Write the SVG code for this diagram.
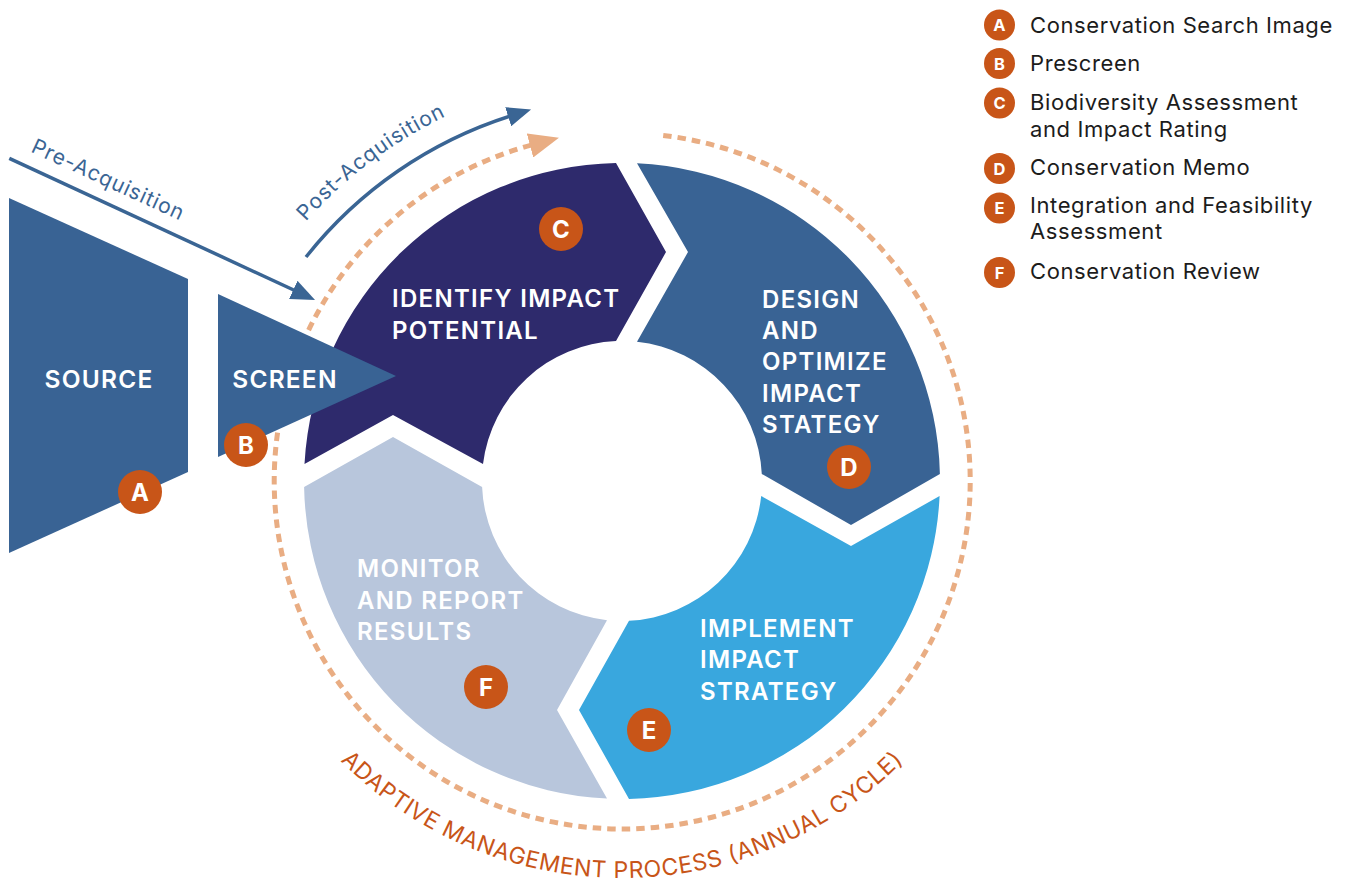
<svg xmlns="http://www.w3.org/2000/svg" width="1347" height="880" viewBox="0 0 1347 880">
  <style>
    .lbl { font-family: Inter, "Liberation Sans", sans-serif; font-weight: 600; font-size: 24px; letter-spacing: 1.3px; fill: #ffffff; }
    .big { font-family: Inter, "Liberation Sans", sans-serif; font-weight: 600; font-size: 24.5px; letter-spacing: 1.2px; fill: #ffffff; }
    .badge { fill: #c85518; }
    .blet { font-family: Inter, "Liberation Sans", sans-serif; font-weight: 700; font-size: 24px; fill: #ffffff; text-anchor: middle; }
    .lblet { font-family: Inter, "Liberation Sans", sans-serif; font-weight: 700; font-size: 16.5px; fill: #ffffff; text-anchor: middle; }
    .leg { font-family: Inter, "Liberation Sans", sans-serif; font-weight: 400; font-size: 22px; letter-spacing: 0.6px; fill: #1c1c1c; }
    .acq { font-family: Inter, "Liberation Sans", sans-serif; font-weight: 400; font-size: 21px; letter-spacing: 0.9px; fill: #3a6594; }
    .blue-line { fill: none; stroke: #3a6594; stroke-width: 3.5; }
    .cycle { fill: none; stroke: #e9ad83; stroke-width: 5; stroke-dasharray: 8.5 6; }
    .amp { font-family: Inter, "Liberation Sans", sans-serif; font-weight: 400; font-size: 23px; letter-spacing: 0.6px; fill: #c85518; }
  </style>
  <defs>
    <marker id="ah-blue" viewBox="0 0 24 20" markerWidth="24" markerHeight="20" refX="4" refY="10" orient="auto" markerUnits="userSpaceOnUse">
      <path d="M0,0 L24,10 L0,20 Z" fill="#3a6594"/>
    </marker>
    <marker id="ah-orange" viewBox="0 0 30 25" markerWidth="30" markerHeight="25" refX="2" refY="12.5" orient="auto" markerUnits="userSpaceOnUse">
      <path d="M0,0 L30,12.5 L0,25 Z" fill="#e9ad83"/>
    </marker>
    <path id="post-path" d="M 273 263 A 448 448 0 0 1 562.2 78.8"/>
    <path id="amp-path" d="M 278.2 679.5 A 397 397 0 0 0 965.8 679.5"/>
  </defs>

  <!-- cycle segments -->
  <g id="seg-c">
    <path d="M 304.5 464 L 393 415 L 483 464 A 140 140 0 0 1 616 341.1 L 666 252 L 616 163.1 A 318 318 0 0 0 304.5 464 Z" fill="#2e2a6c"/>
    <text class="lbl" x="392" y="307">IDENTIFY IMPACT</text>
    <text class="lbl" x="392" y="338.5">POTENTIAL</text>
    <circle class="badge" cx="561" cy="229" r="22"/>
    <text class="blet" x="561" y="237.5">C</text>
  </g>
  <g id="seg-d">
    <path d="M 637 163.35 L 688 252 L 637 341.8 A 140 140 0 0 1 761.8 474 L 851 525 L 939.9 474 A 318 318 0 0 0 637 163.35 Z" fill="#396394"/>
    <text class="lbl" x="762" y="308">DESIGN</text>
    <text class="lbl" x="762" y="339">AND</text>
    <text class="lbl" x="762" y="370">OPTIMIZE</text>
    <text class="lbl" x="762" y="401.5">IMPACT</text>
    <text class="lbl" x="762" y="432.5">STATEGY</text>
    <circle class="badge" cx="849" cy="467" r="22"/>
    <text class="blet" x="849" y="475.5">D</text>
  </g>
  <g id="seg-e">
    <path d="M 939.6 496 L 851 546 L 761.2 496 A 140 140 0 0 1 629 620.8 L 579 710 L 629 798.9 A 318 318 0 0 0 939.6 496 Z" fill="#39a7de"/>
    <text class="lbl" x="700" y="637">IMPLEMENT</text>
    <text class="lbl" x="700" y="668">IMPACT</text>
    <text class="lbl" x="700" y="699.5">STRATEGY</text>
    <circle class="badge" cx="649" cy="730" r="22"/>
    <text class="blet" x="649" y="738.5">E</text>
  </g>
  <g id="seg-f">
    <path d="M 607 798.6 L 557 710 L 607 620.2 A 140 140 0 0 1 482.1 487 L 393 437 L 304.1 487 A 318 318 0 0 0 607 798.6 Z" fill="#b8c6dc"/>
    <text class="lbl" x="357" y="577">MONITOR</text>
    <text class="lbl" x="357" y="608.5">AND REPORT</text>
    <text class="lbl" x="357" y="639.5">RESULTS</text>
    <circle class="badge" cx="486" cy="687" r="22"/>
    <text class="blet" x="486" y="695.5">F</text>
  </g>

  <!-- connectors -->
  <g id="connectors">
    <path id="cycle-arrow" class="cycle" d="M 663.2 135.4 A 348 348 0 1 1 531.9 144.9" marker-end="url(#ah-orange)"/>
    <path id="pre-arrow" class="blue-line" d="M 9.3 158.3 L 296.9 291.5" marker-end="url(#ah-blue)"/>
    <path id="post-arrow" class="blue-line" d="M 306 257 A 425 425 0 0 1 512 115.5" marker-end="url(#ah-blue)"/>
    <text class="acq" transform="translate(9.3,158.3) rotate(24.8)" x="16" y="-15">Pre-Acquisition</text>
    <text class="acq"><textPath href="#post-path" startOffset="53">Post-Acquisition</textPath></text>
    <text class="amp"><textPath href="#amp-path" startOffset="50%" text-anchor="middle">ADAPTIVE MANAGEMENT PROCESS (ANNUAL CYCLE)</textPath></text>
  </g>

  <!-- pre-acquisition nodes -->
  <g id="source">
    <path d="M 9 198 L 188 279 L 188 472 L 9 553 Z" fill="#396394"/>
    <text class="big" x="99" y="388" text-anchor="middle">SOURCE</text>
    <circle class="badge" cx="140" cy="492" r="22"/>
    <text class="blet" x="140" y="500.5">A</text>
  </g>
  <g id="screen">
    <path d="M 218 294 L 396 376 L 218 457 Z" fill="#396394"/>
    <text class="big" x="285" y="388" text-anchor="middle">SCREEN</text>
    <circle class="badge" cx="246" cy="445" r="22"/>
    <text class="blet" x="246" y="453.5">B</text>
  </g>

  <!-- legend -->
  <g id="legend-a">
    <circle class="badge" cx="999.5" cy="25" r="15.5"/>
    <text class="lblet" x="999.5" y="31">A</text>
    <text class="leg" x="1030" y="32.5">Conservation Search Image</text>
  </g>
  <g id="legend-b">
    <circle class="badge" cx="999.5" cy="63.5" r="15.5"/>
    <text class="lblet" x="999.5" y="69.5">B</text>
    <text class="leg" x="1030" y="70.7">Prescreen</text>
  </g>
  <g id="legend-c">
    <circle class="badge" cx="999.5" cy="103" r="15.5"/>
    <text class="lblet" x="999.5" y="109">C</text>
    <text class="leg" x="1030" y="110">Biodiversity Assessment</text>
    <text class="leg" x="1030" y="136.7">and Impact Rating</text>
  </g>
  <g id="legend-d">
    <circle class="badge" cx="999.5" cy="168.5" r="15.5"/>
    <text class="lblet" x="999.5" y="174.5">D</text>
    <text class="leg" x="1030" y="175">Conservation Memo</text>
  </g>
  <g id="legend-e">
    <circle class="badge" cx="999.5" cy="208" r="15.5"/>
    <text class="lblet" x="999.5" y="214">E</text>
    <text class="leg" x="1030" y="213.3">Integration and Feasibility</text>
    <text class="leg" x="1030" y="239">Assessment</text>
  </g>
  <g id="legend-f">
    <circle class="badge" cx="999.5" cy="272.5" r="15.5"/>
    <text class="lblet" x="999.5" y="278.5">F</text>
    <text class="leg" x="1030" y="279.3">Conservation Review</text>
  </g>
</svg>
